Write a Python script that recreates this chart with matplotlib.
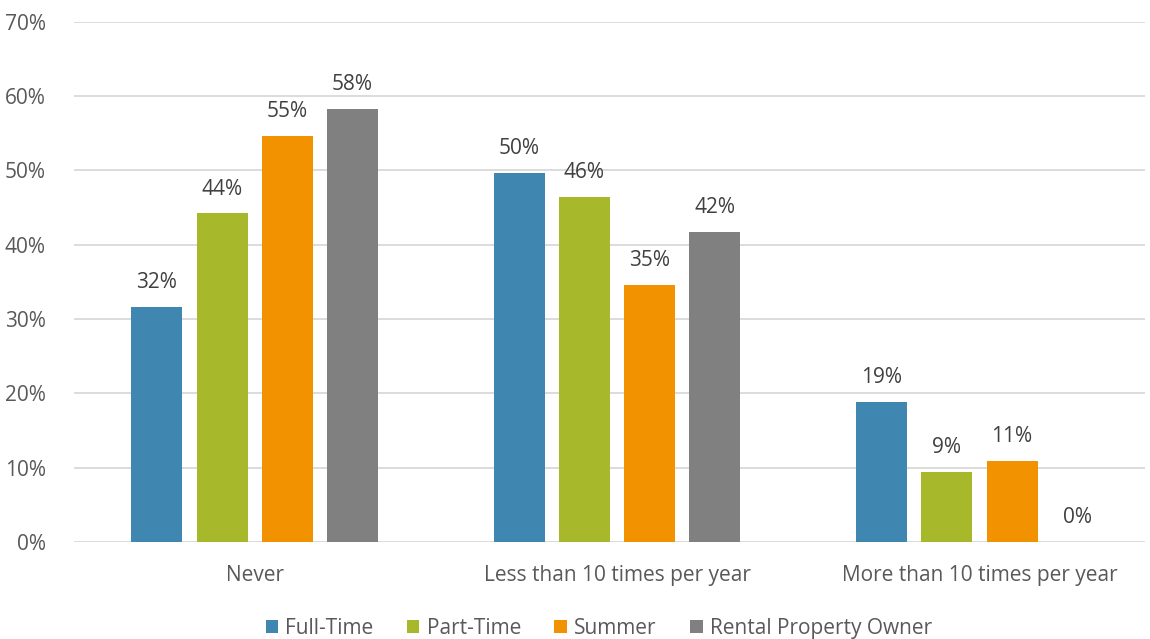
import matplotlib.pyplot as plt
import numpy as np

plt.rcParams['font.family'] = ['Open Sans', 'DejaVu Sans']

categories = ['Never', 'Less than 10 times per year', 'More than 10 times per year']
series = ['Full-Time', 'Part-Time', 'Summer', 'Rental Property Owner']
values = {
    'Full-Time': [31.6, 49.6, 18.8],
    'Part-Time': [44.2, 46.4, 9.4],
    'Summer': [54.6, 34.6, 10.9],
    'Rental Property Owner': [58.3, 41.7, 0.0],
}
colors = ['#3F87B0', '#A7B82A', '#F39200', '#808080']
yticks = [0, 10, 20, 30, 40, 50, 60, 70]

text_color = '#595959'
fs = 15

fig = plt.figure(figsize=(11.5, 6.39), dpi=100)
ax = fig.add_axes([0.064, 0.152, 0.932, 0.814])

x = np.arange(len(categories))
pitch = 0.18
width = 0.141
offsets = (np.arange(len(series)) - 1.5) * pitch

for i, name in enumerate(series):
    vals = values[name]
    bars = ax.bar(x + offsets[i], vals, width, color=colors[i], label=name, zorder=3)
    for b, v in zip(bars, vals):
        ax.annotate(f'{v:.0f}%', (b.get_x() + b.get_width() / 2, v),
                    xytext=(0, 10), textcoords='offset points',
                    ha='center', va='bottom', fontsize=fs, color='#404040')

ax.set_xlim(-0.5, 2.458)
ax.set_ylim(0, 70)
ax.set_yticks(yticks)
ax.set_yticklabels([f'{t}%' for t in yticks], fontsize=fs, color=text_color)
ax.set_xticks(x)
ax.set_xticklabels(categories, fontsize=fs, color=text_color)
ax.tick_params(axis='x', length=0, pad=17)
ax.tick_params(axis='y', length=0, pad=20)
ax.grid(axis='y', color='#D9D9D9', linewidth=1.3, zorder=0)
for s in ax.spines.values():
    s.set_visible(False)

ax.legend(loc='center', bbox_to_anchor=(0.49, -0.166), ncol=4, frameon=False,
          fontsize=fs, handlelength=0.6, handleheight=0.6, handletextpad=0.35,
          columnspacing=1.6, labelcolor=text_color)

fig.savefig('out.png', dpi=100)
